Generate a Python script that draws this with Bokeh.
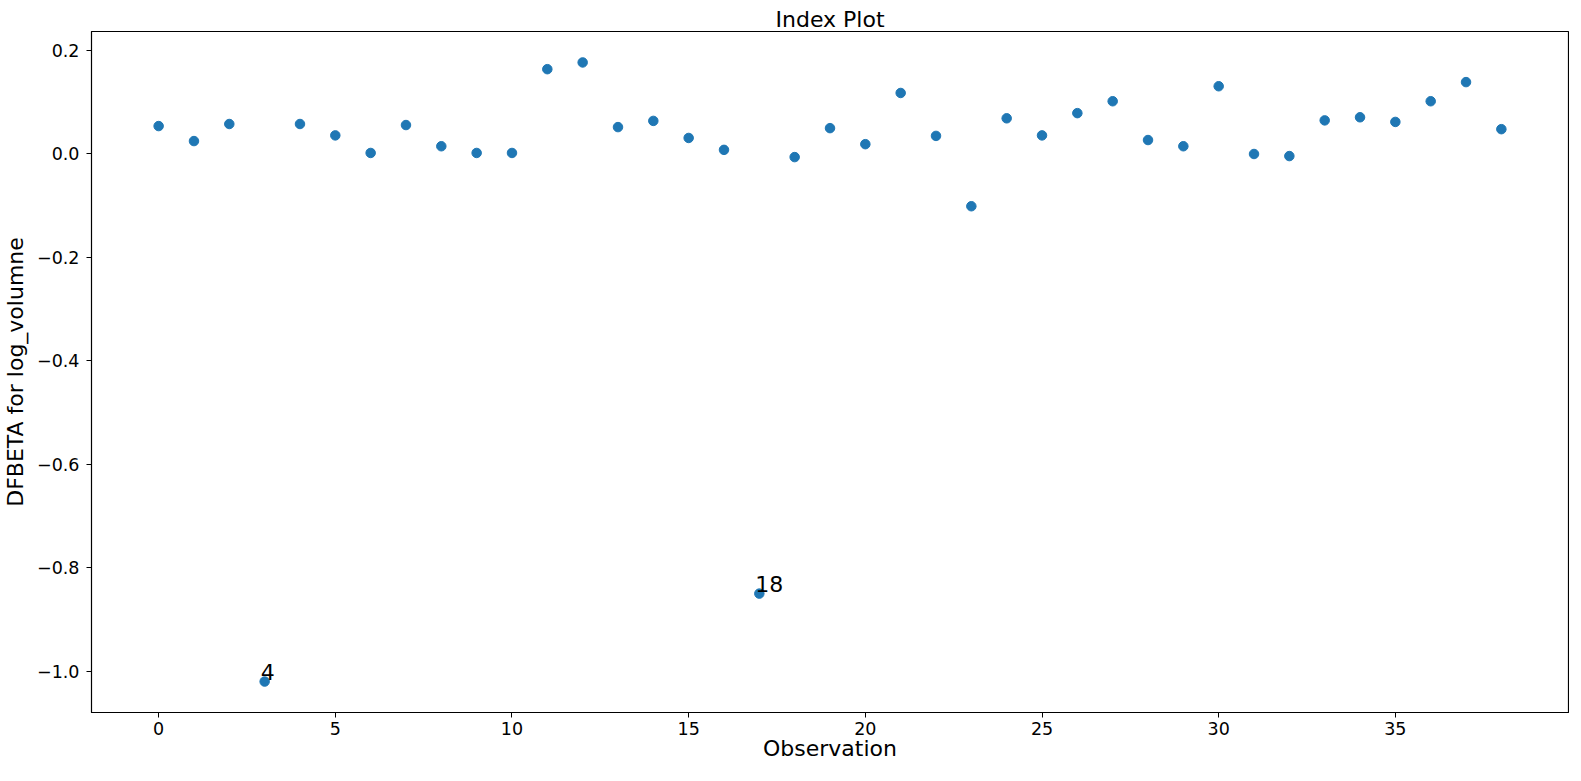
from bokeh.plotting import figure
from bokeh.models import Range1d, FixedTicker, CustomJSTickFormatter, ColumnDataSource
from bokeh.embed import file_html
from bokeh.resources import INLINE
from bokeh.core.properties import value

# ---- data ----
observation = list(range(39))
dfbeta = [0.054, 0.025, 0.058, -1.020, 0.058, 0.036, 0.002, 0.056, 0.015, 0.002,
          0.002, 0.164, 0.177, 0.052, 0.064, 0.031, 0.008, -0.850, -0.006, 0.050,
          0.019, 0.118, 0.035, -0.101, 0.069, 0.036, 0.079, 0.102, 0.027, 0.015,
          0.131, 0.000, -0.004, 0.065, 0.071, 0.062, 0.102, 0.139, 0.048]
label_obs = [3, 17]
label_text = ["4", "18"]
x_ticks = [0, 5, 10, 15, 20, 25, 30, 35]
y_ticks = [-1.0, -0.8, -0.6, -0.4, -0.2, 0.0, 0.2]

# ---- ranges (matplotlib-like 5% margins) ----
xmin, xmax = min(observation), max(observation)
ymin, ymax = min(dfbeta), max(dfbeta)
xm = (xmax - xmin) * 0.05
ym = (ymax - ymin) * 0.05

FONT = "DejaVu Sans"

p = figure(frame_width=1477, frame_height=681, output_backend="svg", toolbar_location=None,
           x_range=Range1d(xmin - xm, xmax + xm), y_range=Range1d(ymin - ym, ymax + ym),
           min_border_left=87, min_border_right=1, min_border_top=31, min_border_bottom=10)

p.title.text = "Index Plot"
p.title.align = "center"
p.title.text_font = FONT
p.title.text_font_size = "22px"
p.title.text_font_style = "normal"
p.title.text_color = "black"
p.title.standoff = 0

src = ColumnDataSource(dict(x=observation, y=dfbeta))
p.scatter("x", "y", source=src, size=9.5, color="#1f77b4", line_color="#1f77b4")

lab_src = ColumnDataSource(dict(x=label_obs, y=[dfbeta[i] for i in label_obs], t=label_text))
p.text("x", "y", text="t", source=lab_src, text_font=value(FONT), text_font_size="22px",
       text_baseline="bottom", text_align="left", x_offset=-4, y_offset=-2, text_color="black")

p.xgrid.visible = False
p.ygrid.visible = False
p.outline_line_color = "black"
p.outline_line_width = 1.2

for ax in (p.xaxis[0], p.yaxis[0]):
    ax.major_label_text_font = FONT
    ax.major_label_text_font_size = "17.5px"
    ax.major_label_text_color = "black"
    ax.axis_label_text_font = FONT
    ax.axis_label_text_font_size = "22px"
    ax.axis_label_text_font_style = "normal"
    ax.axis_label_text_color = "black"
    ax.major_tick_out = 5
    ax.major_tick_in = 0
    ax.minor_tick_out = 0
    ax.minor_tick_in = 0
    ax.axis_line_color = "black"
    ax.major_tick_line_color = "black"

p.yaxis[0].major_label_standoff = 7
p.yaxis[0].axis_label_standoff = 6
p.xaxis[0].major_label_standoff = 4
p.xaxis[0].axis_label_standoff = -2

p.xaxis[0].ticker = FixedTicker(ticks=x_ticks)
p.yaxis[0].ticker = FixedTicker(ticks=y_ticks)
p.yaxis[0].formatter = CustomJSTickFormatter(code="return tick.toFixed(1).replace('-', '\u2212');")
p.xaxis[0].axis_label = "Observation"
p.yaxis[0].axis_label = "DFBETA for log_volumne"

open("out.html", "w").write(file_html(p, INLINE))
